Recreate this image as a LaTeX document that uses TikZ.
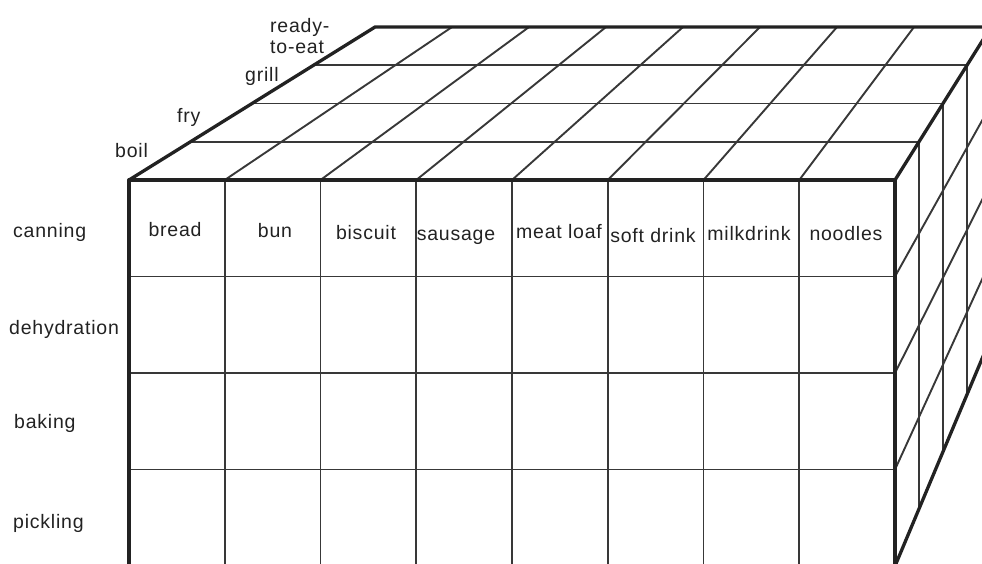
\documentclass[tikz,border=0pt]{standalone}
\usepackage{fontspec}
\setmainfont{Liberation Sans}[LetterSpace=4]
\usetikzlibrary{calc}
\definecolor{ink}{HTML}{222222}
\begin{document}
\begin{tikzpicture}[x=1pt,y=-1pt,
  thickline/.style={line width=3.3pt, line cap=round, line join=round, draw=ink},
  thinline/.style={line width=1.9pt, draw=ink!90!white},
  lab/.style={font=\fontsize{19.5}{21}\selectfont, text=ink, inner sep=0pt}]
\useasboundingbox (0,0) rectangle (982,563);
\begin{scope}
\clip (0,0) rectangle (982,563);
\coordinate (vp) at (1385,-601);
\def\sb{0.804}
% ---------- thin lines ----------
% top face: receding lines from front columns
\foreach \i in {1,...,7}{
  \pgfmathsetmacro\x{129+95.75*\i}
  \draw[thinline] (\x,180) -- ($(vp)!\sb!(\x,180)$);
}
% top face: layer lines and right-face verticals
\foreach \k in {1,2,3}{
  \pgfmathsetmacro\s{1-0.049*\k}
  \draw[thinline] ($(vp)!\s!(129,180)$) -- ($(vp)!\s!(895,180)$);
  \draw[thinline] ($(vp)!\s!(895,180)$) -- ($(vp)!\s!(895,566)$);
}
% front face verticals
\foreach \i in {1,...,7}{
  \pgfmathsetmacro\x{129+95.75*\i}
  \draw[thinline] (\x,180) -- (\x,566);
}
% front face rows and right-face row lines
\foreach \j in {1,2,3}{
  \pgfmathsetmacro\y{180+96.5*\j}
  \draw[thinline] (129,\y) -- (895,\y);
  \draw[thinline] (895,\y) -- ($(vp)!\sb!(895,\y)$);
}
% ---------- thick outline ----------
\draw[thickline] (129,566) -- (129,180) -- (895,180) -- (895,566);
\draw[thickline] (129,180) -- ($(vp)!\sb!(129,180)$) -- ($(vp)!\sb!(895,180)$) -- (895,180);
\draw[thickline] ($(vp)!\sb!(895,180)$) -- ($(vp)!\sb!(895,566)$) -- (895,566);
\end{scope}
% ---------- labels ----------
\node[lab, anchor=base west] (canning) at (13,237) {canning};
\node[lab, anchor=base west] (dehydration) at (9,334) {dehydration};
\node[lab, anchor=base west] (baking) at (14,428) {baking};
\node[lab, anchor=base west] (pickling) at (13,528) {pickling};
\node[lab, anchor=base west] (boil) at (115,157) {boil};
\node[lab, anchor=base west] (fry) at (177,122) {fry};
\node[lab, anchor=base west] (grill) at (245,81) {grill};
\node[lab, anchor=base west] (ready) at (270,32) {ready-};
\node[lab, anchor=base west] (toeat) at (270,53) {to-eat};
\node[lab, anchor=base] (bread) at (175,236) {bread};
\node[lab, anchor=base] (bun) at (275,237) {bun};
\node[lab, anchor=base] (biscuit) at (366,239) {biscuit};
\node[lab, anchor=base] (sausage) at (456,240) {sausage};
\node[lab, anchor=base] (meatloaf) at (559,238) {meat loaf};
\node[lab, anchor=base] (softdrink) at (653,242) {soft drink};
\node[lab, anchor=base] (milkdrink) at (749,240) {milkdrink};
\node[lab, anchor=base] (noodles) at (846,240) {noodles};
\end{tikzpicture}
\end{document}
